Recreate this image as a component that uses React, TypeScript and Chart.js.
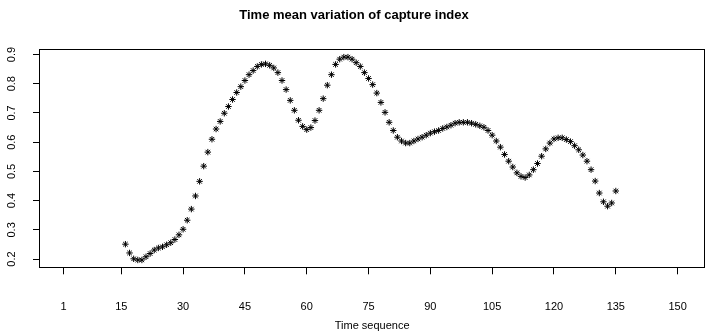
import React, { useEffect, useRef } from "react";
import { Chart, registerables } from "chart.js";

Chart.register(...registerables);

const chartTitle = "Time mean variation of capture index";
const xAxisTitle = "Time sequence";

const timeSeq = [
  16, 17, 18, 19, 20, 21, 22, 23, 24, 25, 26, 27, 28, 29, 30, 31, 32, 33, 34, 35,
  36, 37, 38, 39, 40, 41, 42, 43, 44, 45, 46, 47, 48, 49, 50, 51, 52, 53, 54, 55,
  56, 57, 58, 59, 60, 61, 62, 63, 64, 65, 66, 67, 68, 69, 70, 71, 72, 73, 74, 75,
  76, 77, 78, 79, 80, 81, 82, 83, 84, 85, 86, 87, 88, 89, 90, 91, 92, 93, 94, 95,
  96, 97, 98, 99, 100, 101, 102, 103, 104, 105, 106, 107, 108, 109, 110, 111, 112, 113, 114, 115,
  116, 117, 118, 119, 120, 121, 122, 123, 124, 125, 126, 127, 128, 129, 130, 131, 132, 133, 134, 135,
];

const captureIndex = [
  0.251, 0.221, 0.201, 0.197, 0.197, 0.208, 0.219, 0.231, 0.238, 0.242,
  0.249, 0.256, 0.267, 0.283, 0.302, 0.333, 0.371, 0.416, 0.466, 0.518,
  0.566, 0.61, 0.645, 0.671, 0.699, 0.722, 0.746, 0.77, 0.79, 0.811,
  0.831, 0.845, 0.859, 0.866, 0.868, 0.863, 0.854, 0.838, 0.811, 0.78,
  0.743, 0.709, 0.675, 0.654, 0.643, 0.65, 0.674, 0.709, 0.749, 0.795,
  0.831, 0.866, 0.884, 0.891, 0.891, 0.884, 0.872, 0.859, 0.838, 0.818,
  0.797, 0.768, 0.736, 0.702, 0.668, 0.64, 0.617, 0.604, 0.597, 0.597,
  0.604, 0.611, 0.617, 0.624, 0.631, 0.636, 0.64, 0.647, 0.652, 0.658,
  0.665, 0.668, 0.668, 0.668, 0.665, 0.661, 0.656, 0.651, 0.64, 0.624,
  0.604, 0.583, 0.558, 0.535, 0.515, 0.495, 0.483, 0.479, 0.488, 0.506,
  0.527, 0.552, 0.577, 0.597, 0.611, 0.615, 0.615, 0.609, 0.602, 0.588,
  0.574, 0.556, 0.535, 0.506, 0.467, 0.426, 0.396, 0.381, 0.392, 0.433,
];

const xTickValues = [1, 15, 30, 45, 60, 75, 90, 105, 120, 135, 150];
const yTickValues = [0.2, 0.3, 0.4, 0.5, 0.6, 0.7, 0.8, 0.9];

const FONT = "'Liberation Sans', Arial, Helvetica, sans-serif";

const boxPlugin = {
  id: "rBox",
  afterDraw(chart: any) {
    const { ctx, chartArea: a } = chart;
    ctx.save();
    ctx.strokeStyle = "#000";
    ctx.lineWidth = 1;
    const l = Math.round(a.left) + 0.5;
    const t = Math.round(a.top) + 0.5;
    const r = Math.round(a.right) - 0.5;
    const b = Math.round(a.bottom) - 0.5;
    ctx.strokeRect(l, t, r - l, b - t);
    ctx.restore();
  },
};

export default function App() {
  const ref = useRef<HTMLCanvasElement | null>(null);

  useEffect(() => {
    if (!ref.current) return;
    const points = timeSeq.map((t, i) => ({ x: t, y: captureIndex[i] }));
    const chart = new Chart(ref.current, {
      type: "scatter",
      data: {
        datasets: [
          {
            data: points,
            pointStyle: "star",
            pointRadius: 3.2,
            pointHoverRadius: 3.2,
            borderColor: "#000",
            backgroundColor: "#000",
            borderWidth: 1,
            showLine: false,
          },
        ],
      },
      options: {
        responsive: false,
        animation: false,
        devicePixelRatio: 1,
        layout: { padding: { left: 0, right: 5, top: 0, bottom: 0 } },
        plugins: {
          legend: { display: false },
          tooltip: { enabled: false },
          title: {
            display: true,
            text: chartTitle,
            color: "#000",
            font: { family: FONT, size: 13, weight: "bold" },
            padding: { top: 7.2, bottom: 26 },
          },
        },
        scales: {
          x: {
            type: "linear",
            min: -4.97,
            max: 156.7,
            afterBuildTicks: (s: any) => {
              s.ticks = xTickValues.map((v) => ({ value: v }));
            },
            afterFit: (s: any) => {
              s.height = 65.7;
            },
            ticks: {
              autoSkip: false,
              maxRotation: 0,
              minRotation: 0,
              padding: 26,
              color: "#000",
              font: { family: FONT, size: 11 },
              callback: (v: any) => String(v),
            },
            grid: {
              drawOnChartArea: false,
              drawTicks: true,
              tickLength: 6,
              color: "#000",
              lineWidth: 1,
            },
            border: { display: false },
            title: {
              display: true,
              text: xAxisTitle,
              color: "#000",
              font: { family: FONT, size: 11 },
              padding: { top: 0, bottom: 1.4 },
            },
          },
          y: {
            type: "linear",
            min: 0.1685,
            max: 0.9195,
            afterBuildTicks: (s: any) => {
              s.ticks = yTickValues.map((v) => ({ value: v }));
            },
            afterFit: (s: any) => {
              s.width = 39;
            },
            ticks: {
              autoSkip: false,
              minRotation: 90,
              maxRotation: 90,
              crossAlign: "center",
              padding: 13,
              color: "#000",
              font: { family: FONT, size: 11 },
              callback: (v: any) => Number(v).toFixed(1),
            },
            grid: {
              drawOnChartArea: false,
              drawTicks: true,
              tickLength: 6,
              color: "#000",
              lineWidth: 1,
            },
            border: { display: false },
          },
        },
      },
      plugins: [boxPlugin],
    });
    return () => chart.destroy();
  }, []);

  return (
    <div style={{ position: "absolute", left: 0, top: 0, width: 713, height: 334, background: "#fff" }}>
      <canvas ref={ref} width={713} height={334} />
    </div>
  );
}
